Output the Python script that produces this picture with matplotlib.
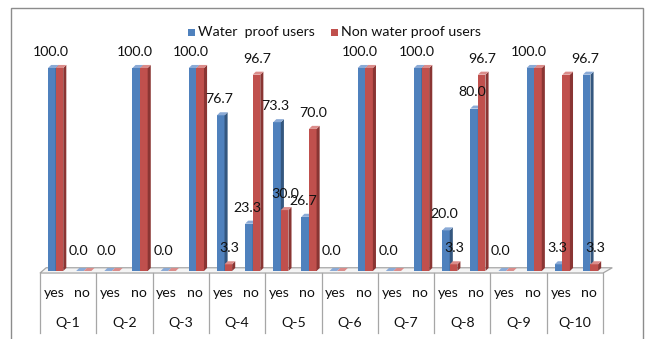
import numpy as np
import matplotlib.pyplot as plt
from matplotlib.patches import Polygon, Rectangle

plt.rcParams['font.family'] = ['Lato', 'DejaVu Sans']

questions = ['Q-1', 'Q-2', 'Q-3', 'Q-4', 'Q-5', 'Q-6', 'Q-7', 'Q-8', 'Q-9', 'Q-10']
answers = ['yes', 'no']
water_proof = [100.0, 0.0, 0.0, 100.0, 0.0, 100.0, 76.7, 23.3, 73.3, 26.7,
               0.0, 100.0, 0.0, 100.0, 20.0, 80.0, 0.0, 100.0, 3.3, 96.7]
non_water_proof = [100.0, 0.0, 0.0, 100.0, 0.0, 100.0, 3.3, 96.7, 30.0, 70.0,
                   0.0, 100.0, 0.0, 100.0, 3.3, 96.7, 0.0, 100.0, 96.7, 3.3]
series_names = ['Water  proof users', 'Non water proof users']

# front / side / top shades for the pseudo-3D columns
shades = [('#4F81BD', '#34577F', '#8AAAD6'),
          ('#C0504D', '#8A3533', '#DB8C8A')]

fs = 10.2
tc = '#111111'

fig = plt.figure(figsize=(6.47, 3.39), dpi=100)
W, H = 647, 339
ax = fig.add_axes([40 / W, 68 / H, 563 / W, 203 / H])
ax.set_xlim(-0.5, 19.5)
ax.set_ylim(0, 100)
ax.axis('off')

x = np.arange(len(water_proof))
width = 0.27
offsets = [-0.08, 0.19]
dx, dy = 0.11, 1.5

# floor
floor = Polygon([(-0.5, -1), (19.5, -1), (19.5 + dx * 3, 1.6), (-0.5 + dx * 2, 1.6)],
                closed=True, facecolor='#F4F4F4', edgecolor='#A6A6A6', lw=0.9,
                clip_on=False, zorder=1)
ax.add_patch(floor)

for s, vals in enumerate([water_proof, non_water_proof]):
    front, side, top = shades[s]
    xs = x + offsets[s]
    bars = ax.bar(xs, vals, width, color=front, edgecolor='none', zorder=3 + s,
                  label=series_names[s], clip_on=False)
    for b, v in zip(bars, vals):
        x0 = b.get_x()
        x1 = x0 + b.get_width()
        ax.add_patch(Polygon([(x1, 0), (x1, v), (x1 + dx, v + dy), (x1 + dx, dy)],
                             closed=True, facecolor=side, edgecolor='none',
                             zorder=3 + s, clip_on=False))
        ax.add_patch(Polygon([(x0, v), (x1, v), (x1 + dx, v + dy), (x0 + dx, v + dy)],
                             closed=True, facecolor=top, edgecolor='none',
                             zorder=3 + s, clip_on=False))

# value labels; where both series agree only one label is shown
hidden = {(1, 18)}
for i in x:
    a, b = water_proof[i], non_water_proof[i]
    ax.text(i + offsets[0] - 0.05, a + (7.0 if a == 0 else 5.0), f'{a:.1f}',
            ha='center', va='bottom', fontsize=fs, color=tc, zorder=10)
    if a != b and (1, i) not in hidden:
        ax.text(i + offsets[1] + 0.03, b + (7.0 if b == 0 else 5.0), f'{b:.1f}',
                ha='center', va='bottom', fontsize=fs, color=tc, zorder=10)

# category table below the floor
for k in range(len(questions) + 1):
    ax.plot([-0.5 + 2 * k, -0.5 + 2 * k], [-1, -30.5], color='#A6A6A6', lw=0.9,
            clip_on=False, zorder=1)
for i in x:
    ax.text(i, -10.8, answers[i % 2], ha='center', va='center', fontsize=fs,
            color=tc)
for q, name in enumerate(questions):
    ax.text(2 * q + 0.5, -25.6, name, ha='center', va='center', fontsize=fs,
            color=tc)

# legend
for s, name in enumerate(series_names):
    lx = [188, 331][s]
    fig.patches.append(Rectangle((lx / W, (H - 35.5) / H), 7 / W, 7 / H,
                                 transform=fig.transFigure, facecolor=shades[s][0],
                                 edgecolor='none'))
    fig.text((lx + 10) / W, (H - 32) / H, name, ha='left', va='center',
             fontsize=fs, color=tc)

# chart border
fig.patches.append(Rectangle((11 / W, -5 / H), 632 / W, (H - 8 + 5) / H,
                             transform=fig.transFigure, facecolor='none',
                             edgecolor='#8C8C8C', lw=1.0))

fig.savefig('out.png', dpi=100, facecolor='white')
